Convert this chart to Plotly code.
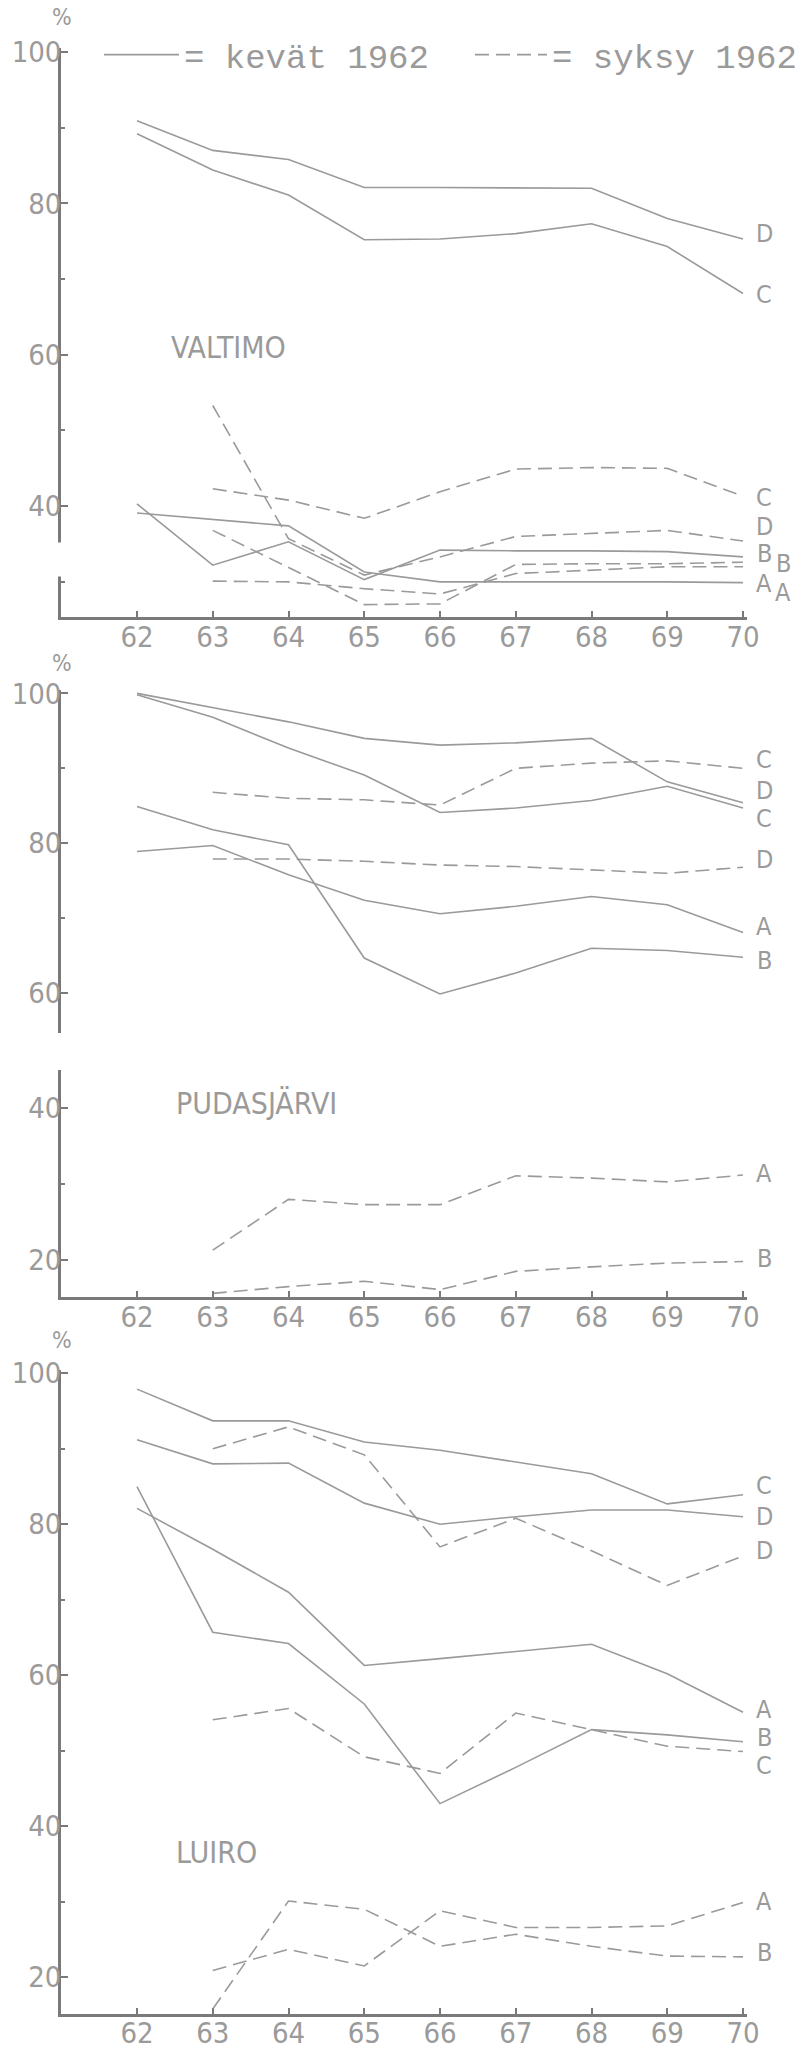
import plotly.graph_objects as go

# ---------------- data ----------------
years_kevat = [62, 63, 64, 65, 66, 67, 68, 69, 70]
years_syksy = [63, 64, 65, 66, 67, 68, 69, 70]
x_ticks = [62, 63, 64, 65, 66, 67, 68, 69, 70]
x_ticktext = ["62", "63", "64", "65", "66", "67", "68", "69", "70"]

# VALTIMO
valtimo_kevat_A = [39.1, 38.3, 37.4, 31.3, 30.0, 30.0, 30.0, 30.0, 29.9]
valtimo_kevat_B = [40.3, 32.2, 35.3, 30.3, 34.2, 34.1, 34.1, 34.0, 33.3]
valtimo_kevat_C = [89.2, 84.4, 81.1, 75.2, 75.3, 76.0, 77.3, 74.3, 68.1]
valtimo_kevat_D = [90.9, 87.0, 85.8, 82.1, 82.1, 82.1, 82.0, 78.0, 75.3]
valtimo_syksy_A = [30.1, 30.0, 29.1, 28.4, 31.1, 31.5, 32.0, 32.0]
valtimo_syksy_B = [36.8, 31.9, 27.0, 27.1, 32.3, 32.4, 32.4, 32.6]
valtimo_syksy_C = [42.3, 40.8, 38.4, 41.9, 44.9, 45.1, 45.0, 41.3]
valtimo_syksy_D = [53.3, 35.7, 30.9, 33.3, 36.0, 36.4, 36.8, 35.4]

# PUDASJÄRVI
pudas_kevat_A = [78.9, 79.7, 75.8, 72.4, 70.6, 71.6, 72.9, 71.8, 68.1]
pudas_kevat_B = [84.9, 81.8, 79.8, 64.7, 59.9, 62.7, 66.0, 65.7, 64.8]
pudas_kevat_C = [99.8, 96.8, 92.7, 89.1, 84.1, 84.7, 85.7, 87.6, 84.7]
pudas_kevat_D = [100.0, 98.1, 96.2, 94.0, 93.1, 93.4, 94.0, 88.2, 85.4]
pudas_syksy_A = [21.3, 28.0, 27.3, 27.3, 31.1, 30.8, 30.3, 31.2]
pudas_syksy_B = [15.6, 16.5, 17.2, 16.1, 18.5, 19.1, 19.6, 19.8]
pudas_syksy_C = [86.8, 86.0, 85.8, 85.1, 90.0, 90.7, 91.0, 90.0]
pudas_syksy_D = [77.9, 77.9, 77.6, 77.1, 76.9, 76.4, 76.0, 76.8]

# LUIRO
luiro_kevat_A = [82.1, 76.7, 71.0, 61.3, 62.2, 63.1, 64.1, 60.2, 55.1]
luiro_kevat_B = [85.0, 65.7, 64.2, 56.2, 43.0, 47.8, 52.8, 52.1, 51.2]
luiro_kevat_C = [97.9, 93.7, 93.7, 90.9, 89.8, 88.3, 86.7, 82.7, 83.9]
luiro_kevat_D = [91.2, 88.0, 88.1, 82.8, 80.0, 81.0, 81.9, 81.9, 81.0]
luiro_syksy_A = [20.9, 23.7, 21.5, 28.8, 26.6, 26.6, 26.8, 29.9]
luiro_syksy_B = [15.8, 30.1, 29.0, 24.1, 25.7, 24.1, 22.8, 22.7]
luiro_syksy_C = [54.1, 55.6, 49.2, 47.0, 55.0, 52.8, 50.6, 49.9]
luiro_syksy_D = [90.0, 92.9, 89.2, 77.0, 80.8, 76.5, 71.9, 75.8]

# ---------------- styling ----------------
W, H = 801, 2051
LINE_COL = "#9a9a9a"
AXIS_COL = "#7a7a7a"
TEXT_COL = "#9a9a9a"
LABEL_FONT = "DejaVu Sans Condensed, Liberation Sans Narrow, sans-serif"
MONO_FONT = "Liberation Mono, DejaVu Sans Mono, monospace"
DASH = "14px,7px"


def py(px):
    return 1 - px / H


fig = go.Figure()

first_k = [True]
first_s = [True]


def add(xs, ys, axis_idx, dashed):
    sfx = "" if axis_idx == 1 else str(axis_idx)
    if dashed:
        show = first_s[0]
        first_s[0] = False
        name, leg = "= syksy 1962", "legend2"
    else:
        show = first_k[0]
        first_k[0] = False
        name, leg = "= kevät 1962", "legend"
    fig.add_trace(go.Scatter(
        x=xs, y=ys, mode="lines", name=name, showlegend=show, legend=leg,
        line=dict(color=LINE_COL, width=1.6, dash=DASH if dashed else "solid"),
        xaxis="x" + sfx, yaxis="y" + sfx, hoverinfo="skip"))


for s in [valtimo_kevat_A, valtimo_kevat_B, valtimo_kevat_C, valtimo_kevat_D]:
    add(years_kevat, s, 1, False)
for s in [valtimo_syksy_A, valtimo_syksy_B, valtimo_syksy_C, valtimo_syksy_D]:
    add(years_syksy, s, 1, True)

for s in [pudas_kevat_A, pudas_kevat_B, pudas_kevat_C, pudas_kevat_D]:
    add(years_kevat, s, 2, False)
for s in [pudas_syksy_C, pudas_syksy_D]:
    add(years_syksy, s, 2, True)
for s in [pudas_syksy_A, pudas_syksy_B]:
    add(years_syksy, s, 3, True)

for s in [luiro_kevat_A, luiro_kevat_B, luiro_kevat_C, luiro_kevat_D]:
    add(years_kevat, s, 4, False)
for s in [luiro_syksy_A, luiro_syksy_B, luiro_syksy_C, luiro_syksy_D]:
    add(years_syksy, s, 4, True)

x_dom = [61.25 / W, 746.8 / W]
x_range = [61, 70.05]

tickfont = dict(family=LABEL_FONT, size=29, color=TEXT_COL)


def xaxis(anchor, visible=True):
    return dict(domain=x_dom, range=x_range, anchor=anchor, visible=visible,
                showline=True, linecolor=AXIS_COL, linewidth=3,
                tickvals=x_ticks, ticktext=x_ticktext, ticks="inside",
                ticklen=6, tickwidth=1.5, tickcolor=AXIS_COL,
                ticklabelstandoff=-8,
                showgrid=False, zeroline=False, tickfont=tickfont)


def yaxis(anchor, dom, rng, major, minor):
    return dict(domain=dom, range=rng, anchor=anchor,
                showline=True, linecolor=AXIS_COL, linewidth=3,
                tickvals=major, ticktext=[str(v) for v in major],
                ticks="inside", ticklen=7, tickwidth=1.5, tickcolor=AXIS_COL,
                ticklabelstandoff=-9,
                minor=dict(tickvals=minor, ticks="inside", ticklen=4,
                           tickwidth=1.5, tickcolor=AXIS_COL),
                showgrid=False, zeroline=False, tickfont=tickfont)


legend_font = dict(family=MONO_FONT, size=34, color=TEXT_COL)

layout = dict(
    width=W, height=H,
    margin=dict(l=0, r=0, t=0, b=0, autoexpand=False),
    paper_bgcolor="white", plot_bgcolor="white",
    xaxis=xaxis("y"),
    yaxis=yaxis("x", [py(616.7), py(48.2)], [25.4, 100.5],
                [40, 60, 80, 100], [30, 50, 70, 90]),
    xaxis2=xaxis("y2", visible=False),
    yaxis2=yaxis("x2", [py(1033.0), py(689.6)], [54.7, 100.5],
                 [60, 80, 100], [70, 90]),
    xaxis3=xaxis("y3"),
    yaxis3=yaxis("x3", [py(1297.2), py(1069.6)], [15.1, 45.1],
                 [20, 40], [30]),
    xaxis4=xaxis("y4"),
    yaxis4=yaxis("x4", [py(2013.5), py(1369.5)], [15.2, 100.5],
                 [20, 40, 60, 80, 100], [30, 50, 70, 90]),
    legend=dict(orientation="h", x=99 / W, y=py(55), xanchor="left",
                yanchor="middle", itemwidth=75, font=legend_font,
                bgcolor="rgba(0,0,0,0)", borderwidth=0),
    legend2=dict(orientation="h", x=470 / W, y=py(55), xanchor="left",
                 yanchor="middle", itemwidth=72, font=legend_font,
                 bgcolor="rgba(0,0,0,0)", borderwidth=0),
)
fig.update_layout(**layout)

# gap in the VALTIMO y-axis
fig.add_shape(type="rect", xref="paper", yref="y",
              x0=x_dom[0] - 6 / W, x1=x_dom[0] + 6 / W, y0=30.7, y1=35.2,
              fillcolor="white", line=dict(width=0), layer="above")

# end-of-line labels: (text, paper x, y value, axis)
LX, LX2 = 764 / W, 783 / W
end_labels = [
    ("D", LX, 76.0, 1), ("C", LX, 67.9, 1),
    ("C", LX, 41.2, 1), ("D", LX, 37.3, 1), ("B", LX, 33.8, 1),
    ("B", LX2, 32.4, 1), ("A", LX, 29.8, 1), ("A", LX2, 28.6, 1),
    ("C", LX, 91.2, 2), ("D", LX, 87.1, 2), ("C", LX, 83.3, 2),
    ("D", LX, 77.8, 2), ("A", LX, 68.9, 2), ("B", LX, 64.4, 2),
    ("A", LX, 31.4, 3), ("B", LX, 20.2, 3),
    ("C", LX, 85.2, 4), ("D", LX, 81.0, 4), ("D", LX, 76.5, 4),
    ("A", LX, 55.5, 4), ("B", LX, 51.8, 4), ("C", LX, 48.1, 4),
    ("A", LX, 30.1, 4), ("B", LX, 23.3, 4),
]
for t, x, y, a in end_labels:
    sfx = "" if a == 1 else str(a)
    fig.add_annotation(text=t, x=x, y=y, xref="paper", yref="y" + sfx,
                       showarrow=False, xanchor="center", yanchor="middle",
                       font=dict(family=LABEL_FONT, size=25, color=TEXT_COL))

# area names
for t, x, y, a in [("VALTIMO", 62.42, 61.0, 1), ("PUDASJÄRVI", 62.49, 40.6, 3),
                   ("LUIRO", 62.49, 36.5, 4)]:
    sfx = "" if a == 1 else str(a)
    fig.add_annotation(text=t, x=x, y=y, xref="x" + sfx, yref="y" + sfx,
                       showarrow=False, xanchor="left", yanchor="middle",
                       font=dict(family=LABEL_FONT, size=30, color=TEXT_COL))

# percent signs
for ypx in [17, 663, 1340]:
    fig.add_annotation(text="%", x=62 / W, y=py(ypx), xref="paper", yref="paper",
                       showarrow=False, xanchor="center", yanchor="middle",
                       font=dict(family=LABEL_FONT, size=23, color=TEXT_COL))

fig.write_html("out.html")
